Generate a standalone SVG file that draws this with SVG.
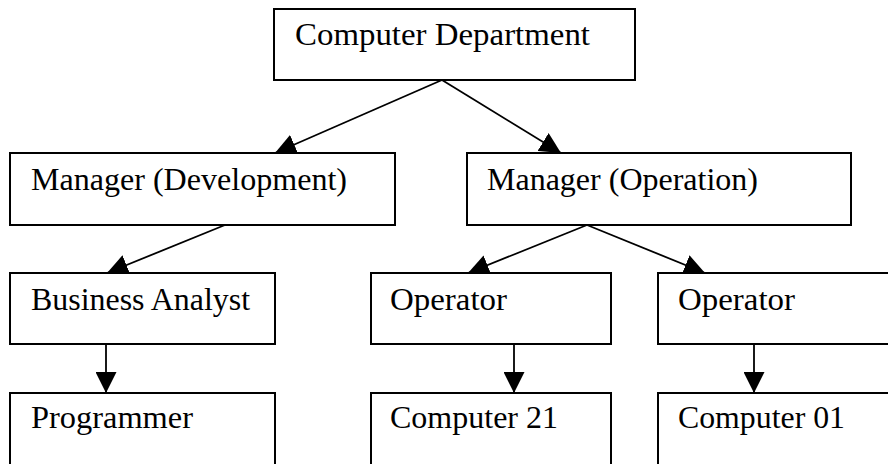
<svg xmlns="http://www.w3.org/2000/svg" width="888" height="464" viewBox="0 0 888 464">
  <style>
    .box { fill: #ffffff; stroke: #000000; stroke-width: 2; }
    .lbl { font-family: "Liberation Serif", "Times New Roman", serif; font-size: 32px; fill: #000000; }
    .conn { stroke: #000000; stroke-width: 1.8; fill: none; marker-end: url(#arrow); }
  </style>
  <defs>
    <marker id="arrow" viewBox="0 0 20 20" refX="20" refY="10" markerWidth="21" markerHeight="21" markerUnits="userSpaceOnUse" orient="auto">
      <path d="M0,0 L20,10 L0,20 z" fill="#000000"/>
    </marker>
  </defs>
  <g id="connectors">
    <line class="conn" x1="442" y1="80" x2="275" y2="153"/>
    <line class="conn" x1="442" y1="80" x2="561" y2="153"/>
    <line class="conn" x1="225" y1="225" x2="107" y2="273"/>
    <line class="conn" x1="587" y1="225" x2="468" y2="273"/>
    <line class="conn" x1="587" y1="225" x2="705" y2="273"/>
    <line class="conn" x1="106" y1="344" x2="106" y2="393"/>
    <line class="conn" x1="514" y1="344" x2="514" y2="393"/>
    <line class="conn" x1="754" y1="344" x2="754" y2="393"/>
  </g>
  <g id="computer-department">
    <rect class="box" x="274" y="9" width="361" height="71"/>
    <text class="lbl" x="295" y="45" textLength="295" lengthAdjust="spacingAndGlyphs">Computer Department</text>
  </g>
  <g id="manager-development">
    <rect class="box" x="10" y="153" width="385" height="72"/>
    <text class="lbl" x="31" y="190" textLength="316" lengthAdjust="spacingAndGlyphs">Manager (Development)</text>
  </g>
  <g id="manager-operation">
    <rect class="box" x="467" y="153" width="384" height="72"/>
    <text class="lbl" x="487" y="190" textLength="271" lengthAdjust="spacingAndGlyphs">Manager (Operation)</text>
  </g>
  <g id="business-analyst">
    <rect class="box" x="10" y="273" width="265" height="71"/>
    <text class="lbl" x="31" y="310" textLength="219" lengthAdjust="spacingAndGlyphs">Business Analyst</text>
  </g>
  <g id="operator-1">
    <rect class="box" x="371" y="273" width="240" height="71"/>
    <text class="lbl" x="390" y="310" textLength="117" lengthAdjust="spacingAndGlyphs">Operator</text>
  </g>
  <g id="operator-2">
    <rect class="box" x="658" y="273" width="250" height="71"/>
    <text class="lbl" x="678" y="310" textLength="117" lengthAdjust="spacingAndGlyphs">Operator</text>
  </g>
  <g id="programmer">
    <rect class="box" x="10" y="393" width="265" height="90"/>
    <text class="lbl" x="31" y="428" textLength="162" lengthAdjust="spacingAndGlyphs">Programmer</text>
  </g>
  <g id="computer-21">
    <rect class="box" x="371" y="393" width="240" height="90"/>
    <text class="lbl" x="390" y="428" textLength="168" lengthAdjust="spacingAndGlyphs">Computer 21</text>
  </g>
  <g id="computer-01">
    <rect class="box" x="658" y="393" width="250" height="90"/>
    <text class="lbl" x="678" y="428" textLength="167" lengthAdjust="spacingAndGlyphs">Computer 01</text>
  </g>
</svg>
